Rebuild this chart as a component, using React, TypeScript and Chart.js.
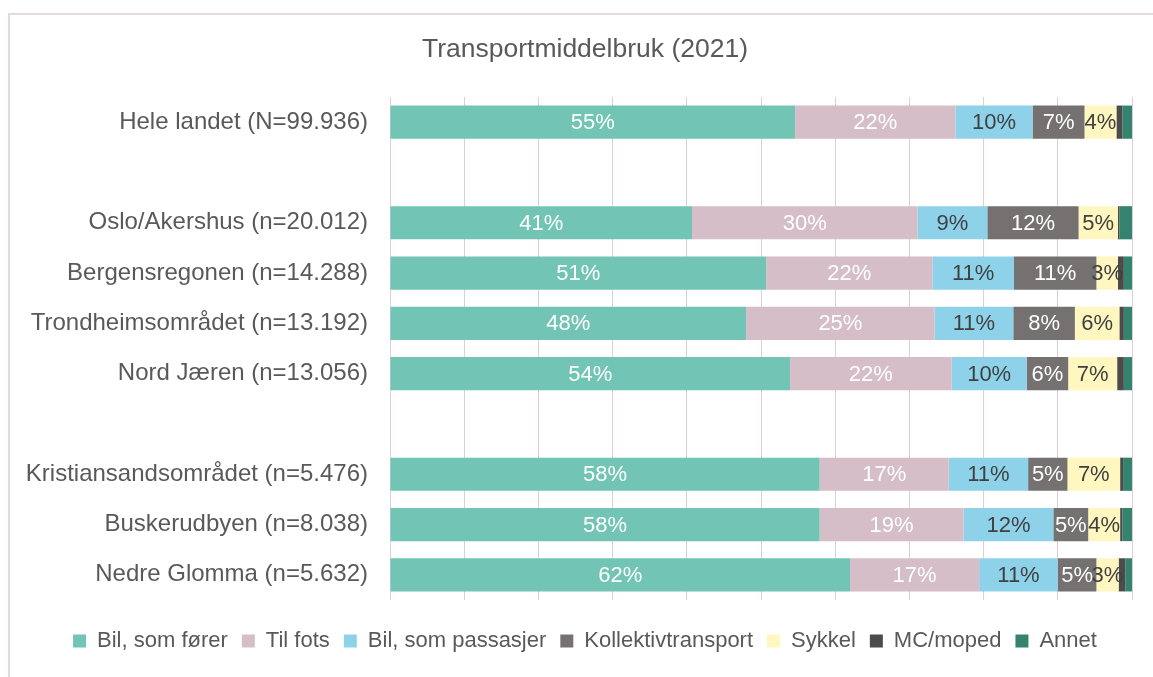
import React, { useEffect, useRef } from "react";
import { Chart, registerables } from "chart.js";

Chart.register(...registerables);

const categories = [
  "Hele landet (N=99.936)",
  "",
  "Oslo/Akershus (n=20.012)",
  "Bergensregonen (n=14.288)",
  "Trondheimsområdet (n=13.192)",
  "Nord Jæren (n=13.056)",
  "",
  "Kristiansandsområdet (n=5.476)",
  "Buskerudbyen (n=8.038)",
  "Nedre Glomma (n=5.632)",
];

const seriesNames = [
  "Bil, som fører",
  "Til fots",
  "Bil, som passasjer",
  "Kollektivtransport",
  "Sykkel",
  "MC/moped",
  "Annet",
];

const bilForer = [54.6, null, 40.7, 50.7, 48.0, 53.9, null, 57.9, 57.9, 62.0];
const tilFots = [21.6, null, 30.4, 22.4, 25.4, 21.8, null, 17.4, 19.4, 17.4];
const bilPassasjer = [10.4, null, 9.4, 11.0, 10.6, 10.1, null, 10.7, 12.1, 10.6];
const kollektiv = [7.0, null, 12.3, 11.1, 8.3, 5.6, null, 5.3, 4.7, 5.2];
const sykkel = [4.3, null, 5.3, 2.9, 6.0, 6.6, null, 7.1, 4.3, 3.0];
const mcMoped = [0.8, null, 0.2, 0.8, 0.6, 0.9, null, 0.4, 0.3, 0.9];
const annet = [1.3, null, 1.7, 1.1, 1.1, 1.1, null, 1.2, 1.3, 0.9];

const seriesValues = [bilForer, tilFots, bilPassasjer, kollektiv, sykkel, mcMoped, annet];
const colors = ["#72c4b4", "#d5bec7", "#8ed2ea", "#767171", "#fff7bf", "#4a4b4a", "#34836f"];
const labelColors = ["#ffffff", "#ffffff", "#404040", "#ffffff", "#404040", "#ffffff", "#ffffff"];

const FONT = "'Liberation Sans', Arial, sans-serif";
const TEXT = "#595959";

const dataLabelPlugin = {
  id: "dataLabels",
  afterDatasetsDraw(chart: any) {
    const ctx = chart.ctx;
    ctx.save();
    ctx.font = `22px ${FONT}`;
    ctx.textAlign = "center";
    ctx.textBaseline = "middle";
    chart.data.datasets.forEach((ds: any, di: number) => {
      const meta = chart.getDatasetMeta(di);
      meta.data.forEach((el: any, i: number) => {
        const v = ds.data[i];
        if (v == null || v < 2) return;
        const cx = (el.x + el.base) / 2;
        ctx.fillStyle = labelColors[di];
        ctx.fillText(`${Math.round(v)}%`, cx, el.y + 1);
      });
    });
    ctx.restore();
  },
};

// Centre title and legend on the outer frame rather than the canvas.
const shiftPlugin = {
  id: "shiftBoxes",
  afterLayout(chart: any) {
    const dx = 10.5;
    [chart.legend, chart.titleBlock].forEach((b: any) => {
      if (b) {
        b.left += dx;
        b.right += dx;
      }
    });
  },
};

export default function App() {
  const ref = useRef<HTMLCanvasElement | null>(null);
  useEffect(() => {
    if (!ref.current) return;
    const chart = new Chart(ref.current, {
      type: "bar",
      data: {
        labels: categories,
        datasets: seriesNames.map((name, i) => ({
          label: name,
          data: seriesValues[i] as any,
          backgroundColor: colors[i],
          borderWidth: 0,
          categoryPercentage: 1,
          barPercentage: 0.66,
        })),
      },
      plugins: [dataLabelPlugin, shiftPlugin],
      options: {
        indexAxis: "y",
        responsive: false,
        animation: false,
        layout: { padding: { left: 17, right: 21, top: 0, bottom: 15 } },
        scales: {
          x: {
            stacked: true,
            min: 0,
            max: 100,
            ticks: { display: false, stepSize: 10 },
            grid: { color: "#dccfd6", lineWidth: 1, drawTicks: false },
            border: { display: false },
            afterFit: (s: any) => {
              s.height = 16;
            },
          },
          y: {
            stacked: true,
            ticks: {
              autoSkip: false,
              padding: 22,
              color: TEXT,
              font: { family: FONT, size: 24 },
            },
            grid: { display: false, drawTicks: false },
            border: { display: false },
            afterFit: (s: any) => {
              s.width = 373;
            },
          },
        },
        plugins: {
          title: {
            display: true,
            text: "Transportmiddelbruk (2021)",
            color: TEXT,
            font: { family: FONT, size: 26.5, weight: "normal" },
            padding: { top: 34, bottom: 31.2 },
          },
          legend: {
            position: "bottom",
            labels: {
              boxWidth: 13,
              boxHeight: 13,
              padding: 14,
              color: TEXT,
              font: { family: FONT, size: 22 },
            },
          },
          tooltip: { enabled: false },
        },
      } as any,
    });
    return () => chart.destroy();
  }, []);

  return (
    <div>
      <div
        style={{
          position: "fixed",
          left: 8,
          top: 13,
          width: 1200,
          height: 700,
          borderLeft: "2px solid #e4dadd",
          borderTop: "2px solid #e4dadd",
        }}
      />
      <canvas
        ref={ref}
        width={1153}
        height={677}
        style={{ position: "fixed", left: 0, top: 0, width: 1153, height: 677 }}
      />
    </div>
  );
}
